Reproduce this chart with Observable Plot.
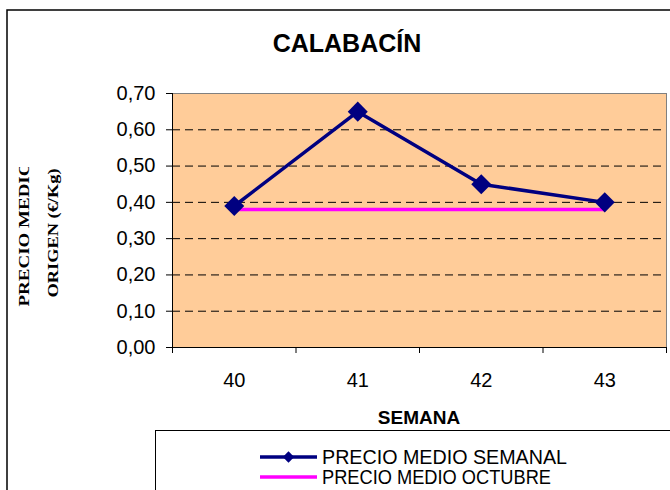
<!DOCTYPE html>
<html><head><meta charset="utf-8">
<script src="https://cdn.jsdelivr.net/npm/d3@7"></script>
<script src="https://cdn.jsdelivr.net/npm/@observablehq/plot@0.6"></script>
<style>body{margin:0;background:#fff} svg{display:block}</style>
</head><body><div id="chart"></div>
<script>
const weeks = [40, 41, 42, 43];
const precioSemanal = [0.39, 0.65, 0.45, 0.40];
const precioOctubre = [0.38, 0.38, 0.38, 0.38];
const yTicks = [0, 0.1, 0.2, 0.3, 0.4, 0.5, 0.6, 0.7];
const title = "CALABACÍN";
const xLabel = "SEMANA";
const yLabel = ["PRECIO MEDIO", "ORIGEN (€/Kg)"];
const seriesNames = ["PRECIO MEDIO SEMANAL", "PRECIO MEDIO OCTUBRE"];
const colors = ["#000080", "#FF00FF"];

const semanal = weeks.map((w, i) => ({week: w, value: precioSemanal[i]}));
const octubre = weeks.map((w, i) => ({week: w, value: precioOctubre[i]}));
const bounds = weeks.map(w => w - 0.5).concat([weeks[weeks.length - 1] + 0.5]);

const plot = Plot.plot({
  width: 670, height: 490,
  marginLeft: 172, marginRight: 4, marginTop: 93, marginBottom: 143,
  style: {fontFamily: "Arial, 'Liberation Sans', sans-serif", background: "#fff", overflow: "visible", color: "#000"},
  x: {type: "linear", domain: [bounds[0], bounds[bounds.length - 1]]},
  y: {domain: [0, 0.7]},
  marks: [
    Plot.frame({fill: "#FFCC99", stroke: "#808080"}),
    Plot.gridY(yTicks.filter(t => t > 0 && t < 0.7), {stroke: "#000", strokeOpacity: 1, strokeDasharray: "8,5"}),
    Plot.ruleX([bounds[0]], {stroke: "#000"}),
    Plot.ruleY([0], {stroke: "#000"}),
    Plot.axisY(yTicks, {tickSize: 6, tickPadding: 11, fontSize: 20, label: null, stroke: "#000",
      tickFormat: d => d.toFixed(2).replace(".", ",")}),
    Plot.axisX(bounds, {tickSize: 6, tickFormat: () => "", label: null, stroke: "#000"}),
    Plot.axisX(weeks, {tickSize: 0, tickPadding: 25, fontSize: 20, label: null, tickFormat: d => String(d)}),
    Plot.line(octubre, {x: "week", y: "value", stroke: colors[1], strokeWidth: 3.5}),
    Plot.line(semanal, {x: "week", y: "value", stroke: colors[0], strokeWidth: 3.5}),
    Plot.dot(semanal, {x: "week", y: "value", symbol: "square", rotate: 45, r: 8, fill: colors[0]})
  ]
});
document.getElementById("chart").appendChild(plot);

const svg = d3.select(plot);
// outer chart border
svg.append("rect").attr("x", 7).attr("y", 10).attr("width", 700).attr("height", 520)
  .attr("fill", "none").attr("stroke", "#000").attr("stroke-width", 1.5);
// title
svg.append("text").attr("x", 347).attr("y", 52).attr("text-anchor", "middle")
  .attr("font-size", 25).attr("font-weight", "bold").attr("fill", "#000").text(title);
// x label
svg.append("text").attr("x", 419).attr("y", 424).attr("text-anchor", "middle")
  .attr("font-size", 19).attr("font-weight", "bold").attr("fill", "#000").text(xLabel);
// y label
svg.append("clipPath").attr("id", "ylabclip").append("rect")
  .attr("x", 0).attr("y", 167).attr("width", 120).attr("height", 300);
const yl = svg.append("g").attr("clip-path", "url(#ylabclip)")
  .attr("font-family", "'Times New Roman', 'Liberation Serif', serif")
  .attr("font-weight", "bold").attr("font-size", 15).attr("fill", "#000");
yl.append("text").attr("transform", "translate(29,234) rotate(-90)").attr("text-anchor", "middle")
  .attr("textLength", 145).attr("lengthAdjust", "spacingAndGlyphs").text(yLabel[0]);
yl.append("text").attr("transform", "translate(58,233) rotate(-90)").attr("text-anchor", "middle")
  .attr("textLength", 129).attr("lengthAdjust", "spacingAndGlyphs").text(yLabel[1]);
// legend
svg.append("rect").attr("x", 155.5).attr("y", 430.5).attr("width", 600).attr("height", 100)
  .attr("fill", "#fff").attr("stroke", "#000").attr("stroke-width", 1);
const legY = [457, 477], legBase = [464, 484], legLen = [245, 229];
seriesNames.forEach((name, i) => {
  svg.append("line").attr("x1", 260).attr("x2", 317).attr("y1", legY[i]).attr("y2", legY[i])
    .attr("stroke", colors[i]).attr("stroke-width", 3.5);
  if (i === 0) {
    svg.append("rect").attr("x", -4).attr("y", -4).attr("width", 8).attr("height", 8)
      .attr("fill", colors[0]).attr("transform", `translate(288.5,${legY[i]}) rotate(45)`);
  }
  svg.append("text").attr("x", 322).attr("y", legBase[i]).attr("text-anchor", "start")
    .attr("font-size", 20).attr("fill", "#000")
    .attr("textLength", legLen[i]).attr("lengthAdjust", "spacingAndGlyphs").text(name);
});
</script>
</body></html>
